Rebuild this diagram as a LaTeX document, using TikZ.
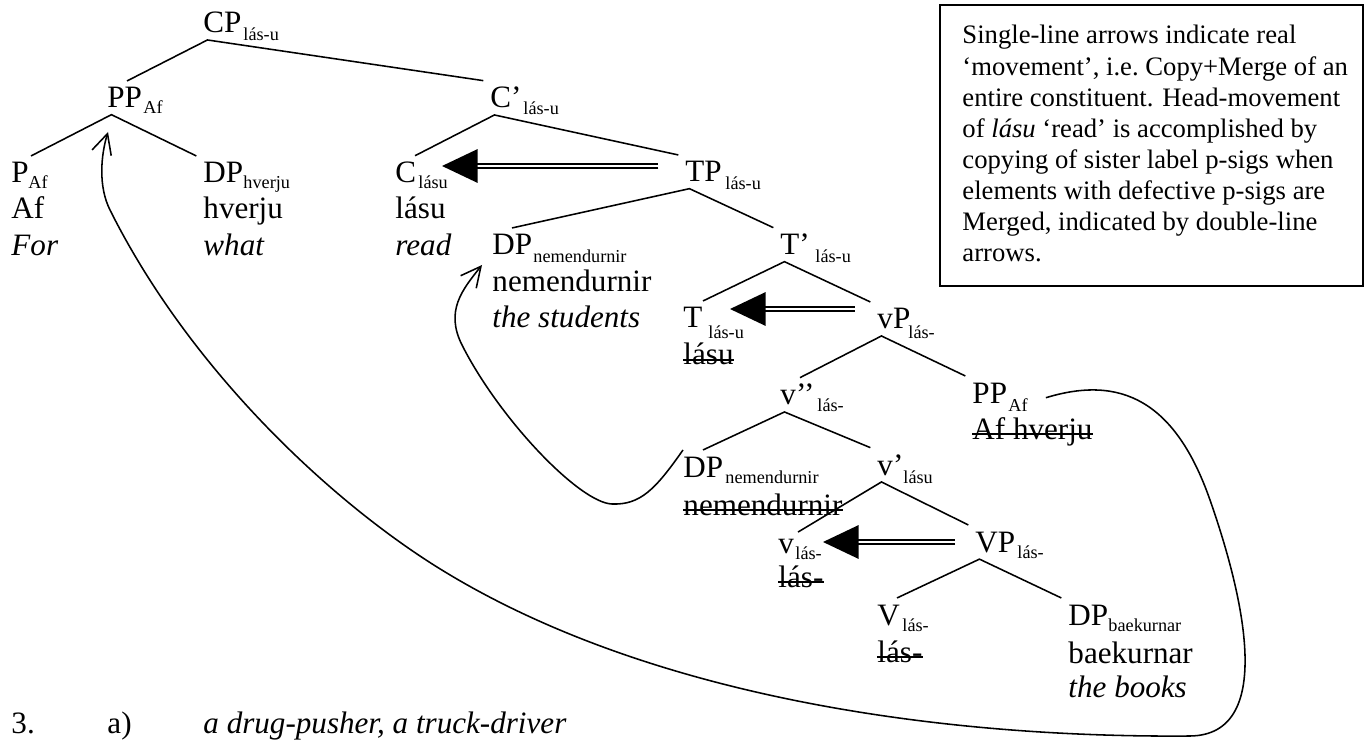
\documentclass[tikz,border=0pt]{standalone}
\usepackage{fontspec}
\setmainfont{Liberation Serif}
\usetikzlibrary{arrows.meta}

\begin{document}
\begin{tikzpicture}[x=0.45pt, y=-0.45pt,
  cat/.style={font=\fontsize{14}{16}\selectfont, inner sep=0pt, outer ysep=3pt, anchor=base west},
  sub/.style={font=\fontsize{8.2}{9}\selectfont, inner sep=0pt, anchor=base west},
  word/.style={font=\fontsize{14}{16}\selectfont, inner sep=0pt, anchor=base west},
  gloss/.style={word, font=\fontsize{14}{16}\selectfont\itshape},
  struck/.style={word, append after command={(\tikzlastnode.mid west) edge[line width=0.7pt] (\tikzlastnode.mid east)}},
  boxtext/.style={font=\fontsize{12}{14}\selectfont, inner sep=0pt, anchor=north west, align=left},
  branch/.style={line width=0.7pt},
  mv/.style={line width=0.7pt, -{Straight Barb[length=9pt, width=9pt]}},
  headmv/.style={double, double distance=1.1pt, line width=0.85pt, -{Triangle[length=16pt, width=15pt]}}]
  \useasboundingbox (0,0) rectangle (1366,741);

  % Draw the labels
  \node[cat] (cp) at (203,33) {CP};
  \node[sub] (cpsub) at (243,41) {lás-u};
  \node[cat] (ppA) at (107,108) {PP};
  \node[sub] (ppAsub) at (143,114) {Af};
  \node[cat] (cbar) at (490,108) {C’};
  \node[sub] (cbarsub) at (523,115) {lás-u};

  \node[cat] (pAf) at (11,183) {P};
  \node[sub] (pAfsub) at (28,189) {Af};
  \node[word] (pAfword) at (11,219) {Af};
  \node[gloss] (pAfgloss) at (11,256) {For};
  \node[cat] (dpH) at (203,183) {DP};
  \node[sub] (dpHsub) at (243,189) {hverju};
  \node[word] (dpHword) at (203,219) {hverju};
  \node[gloss] (dpHgloss) at (203,256) {what};
  \node[cat] (cL) at (395,183) {C};
  \node[sub] (cLsub) at (418,189) {lásu};
  \node[word] (cLword) at (395,219) {lásu};
  \node[gloss] (cLgloss) at (395,256) {read};
  \node[cat] (tp) at (685,182) {TP};
  \node[sub] (tpsub) at (725,190) {lás-u};

  \node[cat] (dpN) at (492,255) {DP};
  \node[sub] (dpNsub) at (533,263) {nemendurnir};
  \node[word] (dpNword) at (492,292) {nemendurnir};
  \node[gloss] (dpNgloss) at (492,328) {the students};
  \node[cat] (tbar) at (780,255) {T’};
  \node[sub] (tbarsub) at (815,263) {lás-u};

  \node[cat] (tL) at (683,328) {T};
  \node[sub] (tLsub) at (708,338) {lás-u};
  \node[struck] (tLword) at (683,365) {lásu};
  \node[cat] (vp) at (877,329) {vP};
  \node[sub] (vpsub) at (908,338) {lás-};

  \node[cat] (vbb) at (780,405) {v’’};
  \node[sub] (vbbsub) at (817,411) {lás-};
  \node[cat] (ppB) at (972,403) {PP};
  \node[sub] (ppBsub) at (1008,411) {Af};
  \node[struck] (ppBword) at (972,439) {Af hverju};

  \node[cat] (dpNB) at (683,477) {DP};
  \node[sub] (dpNBsub) at (725,483) {nemendurnir};
  \node[struck] (dpNBword) at (683,515) {nemendurnir};
  \node[cat] (vbar) at (877,475) {v’};
  \node[sub] (vbarsub) at (903,483) {lásu};

  \node[cat] (vL) at (778,553) {v};
  \node[sub] (vLsub) at (795,559) {lás-};
  \node[struck] (vLword) at (778,587) {lás-};
  \node[cat] (vpB) at (975,552) {VP};
  \node[sub] (vpBsub) at (1017,558) {lás-};

  \node[cat] (vV) at (877,625) {V};
  \node[sub] (vVsub) at (902,631) {lás-};
  \node[struck] (vVword) at (877,662) {lás-};
  \node[cat] (dpB) at (1068,625) {DP};
  \node[sub] (dpBsub) at (1108,631) {baekurnar};
  \node[word] (dpBword) at (1068,663) {baekurnar};
  \node[gloss] (dpBgloss) at (1068,697) {the books};

  % Draw the branches
  \draw[branch] ([xshift=9pt]ppA.north west) -- ([xshift=2pt]cp.south west) -- ([xshift=-3pt]cbar.north west);
  \draw[branch] ([xshift=9pt]pAf.north west) -- ([xshift=2pt]ppA.south west) -- ([xshift=-3pt]dpH.north west);
  \draw[branch] ([xshift=9pt]cL.north west) -- ([xshift=2pt]cbar.south west) -- ([xshift=-3pt]tp.north west);
  \draw[branch] ([xshift=9pt]dpN.north west) -- ([xshift=2pt]tp.south west) -- ([xshift=-3pt]tbar.north west);
  \draw[branch] ([xshift=9pt]tL.north west) -- ([xshift=2pt]tbar.south west) -- ([xshift=-3pt]vp.north west);
  \draw[branch] ([xshift=9pt]vbb.north west) -- ([xshift=2pt]vp.south west) -- ([xshift=-3pt]ppB.north west);
  \draw[branch] ([xshift=9pt]dpNB.north west) -- ([xshift=2pt]vbb.south west) -- ([xshift=-3pt]vbar.north west);
  \draw[branch] ([xshift=9pt]vL.north west) -- ([xshift=2pt]vbar.south west) -- ([xshift=-3pt]vpB.north west);
  \draw[branch] ([xshift=9pt]vV.north west) -- ([xshift=2pt]vpB.south west) -- ([xshift=-3pt]dpB.north west);

  % Head movement (double-line arrows)
  \coordinate (cTip) at (442,166);
  \draw[headmv, shorten <=12pt] (tp.west |- cTip) -- (cTip);
  \coordinate (tTip) at (730,309);
  \draw[headmv, shorten <=10pt] (vp.west |- tTip) -- (tTip);
  \coordinate (vTip) at (823,542);
  \draw[headmv, shorten <=9pt] (vpB.west |- vTip) -- (vTip);

  % Phrasal movement (single-line arrows)
  \coordinate (dpNtip) at (482,265);
  \draw[mv] (dpNB.north west) .. controls (655,490) and (640,505) .. (612,504)
    .. controls (580,503) and (500,420) .. (462,345)
    .. controls (445,311) and (462,290) .. (dpNtip);
  \coordinate (ppAtip) at (108,132);
  \draw[mv] ([xshift=8pt]ppBsub.north east) .. controls (1120,375) and (1175,400) .. (1210,500)
    .. controls (1245,600) and (1275,735) .. (1190,736)
    .. controls (950,738) and (650,700) .. (437,567)
    .. controls (330,500) and (190,370) .. (110,210)
    .. controls (98,186) and (101,155) .. (ppAtip);

  % The note box
  \draw[line width=0.9pt] (940,5) rectangle (1363,286);
  \node[boxtext] (note) at (962,25) {Single-line arrows indicate real\\
    ‘movement’, i.e.\ Copy+Merge of an\\
    entire constituent. Head-movement\\
    of \emph{lásu} ‘read’ is accomplished by\\
    copying of sister label p-sigs when\\
    elements with defective p-sigs are\\
    Merged, indicated by double-line\\
    arrows.};

  % Example line below
  \node[word] (exnum) at (11,733) {3.};
  \node[word] (exlet) at (107,733) {a)};
  \node[gloss] (extext) at (203,733) {a drug-pusher, a truck-driver};
\end{tikzpicture}
\end{document}
